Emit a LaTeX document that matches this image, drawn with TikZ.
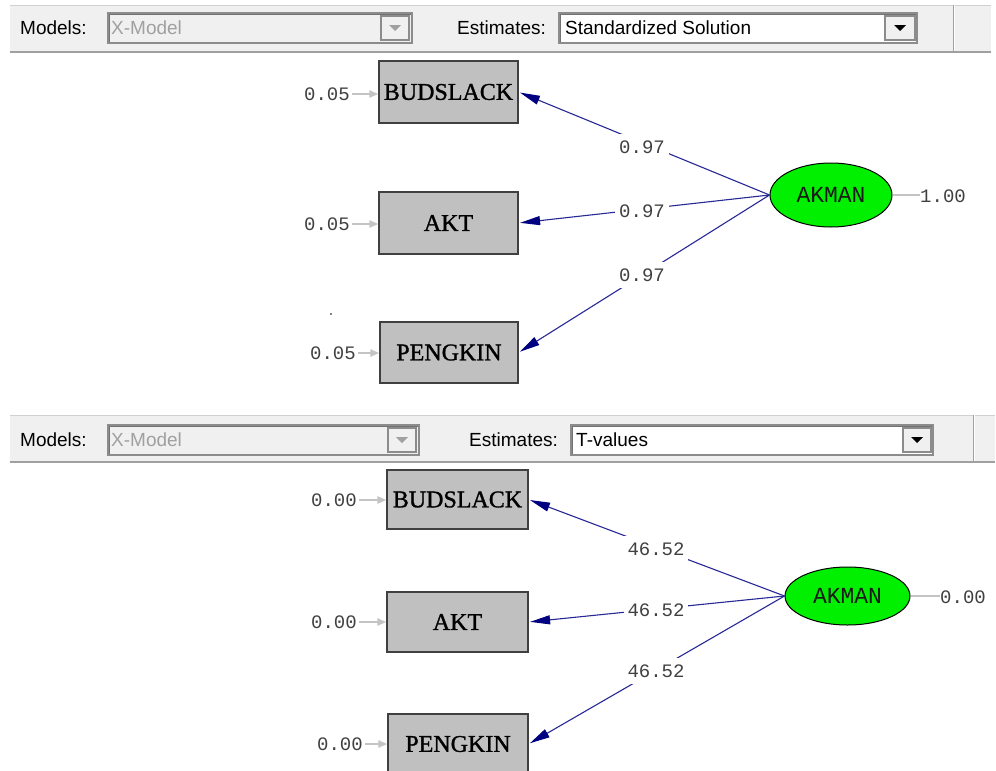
\documentclass[tikz,border=0pt]{standalone}
\usepackage{fontspec}
\setmainfont{Liberation Serif}
\newfontfamily\boxfont{Liberation Serif}[FakeBold=1.2]
\newfontfamily\uifont{Liberation Sans}
\newfontfamily\numfont{Liberation Mono}
\usetikzlibrary{arrows.meta,shapes.geometric}
\definecolor{barbg}{HTML}{F0F0F0}
\definecolor{boxgray}{HTML}{C0C0C0}
\definecolor{pathblue}{RGB}{40,40,150}
\definecolor{headnavy}{HTML}{000080}
\definecolor{errgray}{HTML}{C4C4C4}
\definecolor{latgreen}{HTML}{00F000}
\definecolor{framegray}{HTML}{8C8C8C}
\definecolor{dimgray}{HTML}{A0A0A0}
\tikzset{
  obsbox/.style={draw=black!75, line width=1.2pt, fill=boxgray, inner sep=0pt,
    font=\boxfont\fontsize{24}{26}\selectfont},
  latent/.style={ellipse, draw=black, line width=1pt, fill=latgreen, inner sep=0pt,
    font=\numfont\fontsize{23}{25}\selectfont, text=black!90},
  num/.style={inner sep=0pt, font=\numfont\fontsize{19}{21}\selectfont, text=black!75},
  loadlab/.style={num, fill=white, minimum width=54pt, minimum height=26pt},
  loading/.style={draw=pathblue, line width=1.1pt, shorten >=1.5pt,
    -{Triangle[length=20pt,width=9pt,color=headnavy]}},
  errarrow/.style={draw=errgray, line width=2.2pt, -{Triangle[length=9pt,width=7pt]}},
  uitext/.style={inner sep=0pt, anchor=west, font=\uifont\fontsize{19}{21}\selectfont},
  combo/.style={draw=framegray, line width=1.5pt},
  dropbtn/.style={draw=framegray, line width=1.2pt, fill=barbg},
}
\begin{document}
\begin{tikzpicture}[x=1pt,y=-1pt]
\useasboundingbox (0,0) rectangle (996,771);
\fill[white] (0,0) rectangle (996,771);

% ---------- toolbar above the standardized solution ----------
\fill[barbg] (10,5) rectangle (991,52);
\draw[dimgray!50, line width=0.8pt] (10,5.4) -- (991,5.4);
\draw[dimgray, line width=2pt] (10,52) -- (991,52);
\draw[dimgray, line width=1pt] (953,5) -- (953,51);
\draw[white, line width=1pt] (954.2,5) -- (954.2,51);

\draw[combo, fill=barbg] (108,13) rectangle (412,43);
\draw[black!55, line width=1pt] (109.6,42) -- (109.6,14.6) -- (411,14.6);
\draw[dropbtn] (381,16) rectangle (409,40);
\fill[dimgray] (389,25) -- (401,25) -- (395,31) -- cycle;

\draw[combo, fill=white] (559,13) rectangle (917,43);
\draw[black!55, line width=1pt] (560.6,42) -- (560.6,14.6) -- (916,14.6);
\draw[dropbtn] (885,16) rectangle (915,40);
\fill[black] (894,25) -- (906,25) -- (900,31) -- cycle;

\node[uitext] (mlab1) at (20,28) {Models:};
\node[uitext, text=dimgray] (mval1) at (111,28) {X-Model};
\node[uitext] (elab1) at (457,28) {Estimates:};
\node[uitext] (eval1) at (565,28) {Standardized Solution};

% ---------- standardized solution path diagram ----------
\node[obsbox, minimum width=139pt, minimum height=62pt] (bs1) at (448.5,92) {BUDSLACK};
\node[obsbox, minimum width=139pt, minimum height=62pt] (akt1) at (448.5,223) {AKT};
\node[obsbox, minimum width=138pt, minimum height=61pt] (pk1) at (449,352.5) {PENGKIN};
\node[latent, minimum width=122pt, minimum height=64pt] (ak1) at (831,195) {AKMAN};

\draw[loading] (ak1.west) -- (bs1.east);
\draw[loading] (ak1.west) -- (akt1.east);
\draw[loading] (ak1.west) -- (pk1.east);
\node[loadlab] (l11) at (642,147) {0.97};
\node[loadlab] (l12) at (642,211) {0.97};
\node[loadlab] (l13) at (642,275) {0.97};

\node[num, anchor=east] (e11) at (350,94) {0.05};
\node[num, anchor=east] (e12) at (350,224) {0.05};
\node[num, anchor=east] (e13) at (356,353) {0.05};
\draw[errarrow] ([xshift=2pt]e11.east) -- (e11.east -| bs1.west);
\draw[errarrow] ([xshift=2pt]e12.east) -- (e12.east -| akt1.west);
\draw[errarrow] ([xshift=2pt]e13.east) -- (e13.east -| pk1.west);

\node[num, anchor=west] (v1) at (920,196) {1.00};
\draw[errgray, line width=1.3pt] (ak1.east) -- (ak1.east -| v1.west);

\fill[black] (331,314) circle (0.8);

% ---------- toolbar above the t-values ----------
\fill[barbg] (10,415) rectangle (995,462);
\draw[dimgray!50, line width=0.8pt] (10,415.4) -- (995,415.4);
\draw[dimgray, line width=2pt] (10,462) -- (995,462);
\draw[dimgray, line width=1pt] (973,415) -- (973,461);
\draw[white, line width=1pt] (974.2,415) -- (974.2,461);

\draw[combo, fill=barbg] (108,425) rectangle (419,455);
\draw[black!55, line width=1pt] (109.6,454) -- (109.6,426.6) -- (418,426.6);
\draw[dropbtn] (388,428) rectangle (416,452);
\fill[dimgray] (396,437) -- (408,437) -- (402,443) -- cycle;

\draw[combo, fill=white] (571,425) rectangle (933,455);
\draw[black!55, line width=1pt] (572.6,454) -- (572.6,426.6) -- (932,426.6);
\draw[dropbtn] (903,428) rectangle (931,452);
\fill[black] (911,437) -- (923,437) -- (917,443) -- cycle;

\node[uitext] (mlab2) at (20,440) {Models:};
\node[uitext, text=dimgray] (mval2) at (111,440) {X-Model};
\node[uitext] (elab2) at (469,440) {Estimates:};
\node[uitext] (eval2) at (576,440) {T-values};

% ---------- t-value path diagram ----------
\node[obsbox, minimum width=141pt, minimum height=59pt] (bs2) at (457.5,499.5) {BUDSLACK};
\node[obsbox, minimum width=141pt, minimum height=60pt] (akt2) at (457.5,622) {AKT};
\node[obsbox, minimum width=140pt, minimum height=60pt] (pk2) at (458,744) {PENGKIN};
\node[latent, minimum width=125pt, minimum height=58pt] (ak2) at (847.5,596) {AKMAN};

\draw[loading] (ak2.west) -- (bs2.east);
\draw[loading] (ak2.west) -- (akt2.east);
\draw[loading] (ak2.west) -- (pk2.east);
\node[loadlab, minimum width=64pt] (l21) at (656,549) {46.52};
\node[loadlab, minimum width=64pt] (l22) at (656,610) {46.52};
\node[loadlab, minimum width=64pt] (l23) at (656,671) {46.52};

\node[num, anchor=east] (e21) at (357,500) {0.00};
\node[num, anchor=east] (e22) at (357,622) {0.00};
\node[num, anchor=east] (e23) at (363,744) {0.00};
\draw[errarrow] ([xshift=2pt]e21.east) -- (e21.east -| bs2.west);
\draw[errarrow] ([xshift=2pt]e22.east) -- (e22.east -| akt2.west);
\draw[errarrow] ([xshift=2pt]e23.east) -- (e23.east -| pk2.west);

\node[num, anchor=west] (v2) at (940,597) {0.00};
\draw[errgray, line width=1.3pt] (ak2.east) -- (ak2.east -| v2.west);
\end{tikzpicture}
\end{document}
